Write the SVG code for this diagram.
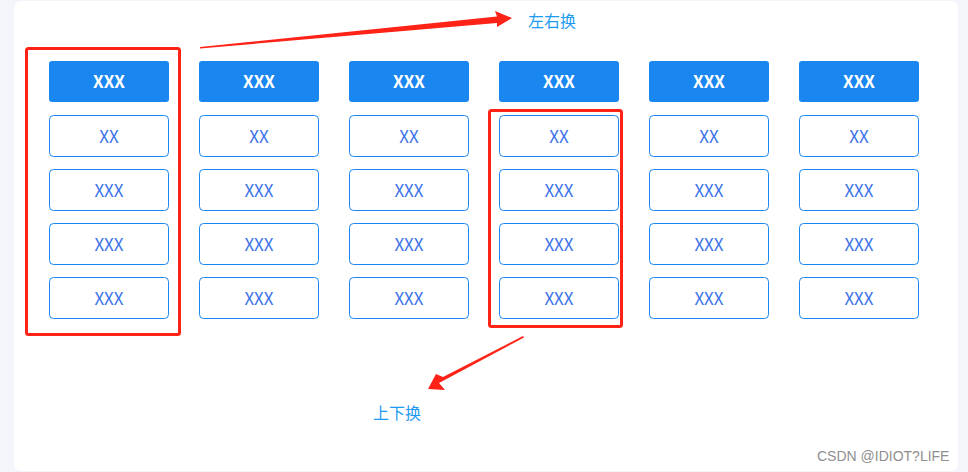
<svg xmlns="http://www.w3.org/2000/svg" width="968" height="472" viewBox="0 0 968 472">
<style>
.hd{fill:#1a86f0;}
.cell{fill:#fff;stroke:#1a86f0;stroke-width:1;}
.ht{font-family:"Noto Sans CJK SC","Noto Sans",sans-serif;font-size:17px;font-weight:bold;fill:#fff;text-anchor:middle;}
.ct{font-family:"Noto Sans CJK SC","Noto Sans",sans-serif;font-size:17px;fill:#3d74e8;text-anchor:middle;}
.lbl{font-family:"Noto Sans CJK SC",sans-serif;font-size:16px;fill:#1e9bf0;}
.sel{fill:none;stroke:#ff2217;stroke-width:3;}
</style>
<rect x="0" y="0" width="968" height="472" fill="#f4f5fa"/>
<rect x="14" y="1" width="944" height="470" rx="7" fill="#fff"/>
<defs>
<g id="col">
<rect class="hd" x="0" y="0" width="120" height="41" rx="3"/>
<text class="ht" x="60" y="27">XXX</text>
<rect class="cell" x="0.5" y="54.5" width="119" height="41" rx="4"/>
<text class="ct" x="60" y="82">XX</text>
<rect class="cell" x="0.5" y="108.5" width="119" height="41" rx="4"/>
<text class="ct" x="60" y="136">XXX</text>
<rect class="cell" x="0.5" y="162.5" width="119" height="41" rx="4"/>
<text class="ct" x="60" y="190">XXX</text>
<rect class="cell" x="0.5" y="216.5" width="119" height="41" rx="4"/>
<text class="ct" x="60" y="244">XXX</text>
</g>
</defs>
<g id="col1"><use href="#col" x="49" y="61"/></g>
<g id="col2"><use href="#col" x="199" y="61"/></g>
<g id="col3"><use href="#col" x="349" y="61"/></g>
<g id="col4"><use href="#col" x="499" y="61"/></g>
<g id="col5"><use href="#col" x="649" y="61"/></g>
<g id="col6"><use href="#col" x="799" y="61"/></g>
<g id="selections">
<rect class="sel" x="26.5" y="48.5" width="153" height="286" rx="2"/>
<rect class="sel" x="489.5" y="110.5" width="132" height="216" rx="2"/>
</g>
<g id="connectors" fill="#ff2217">
<polygon points="200,47 497,16.5 495,11 512,18 497,27 497,23 200,48.5"/>
<polygon points="523,336 443,377 436,374 428,389 445,390 439,383 524,337.5"/>
</g>
<g id="labels">
<text class="lbl" x="528" y="27">左右换</text>
<text class="lbl" x="373" y="419">上下换</text>
</g>
<text x="817" y="461" font-family="Liberation Sans,Arial,sans-serif" font-size="14" fill="#8f8f8f">CSDN @IDIOT?LIFE</text>
</svg>
